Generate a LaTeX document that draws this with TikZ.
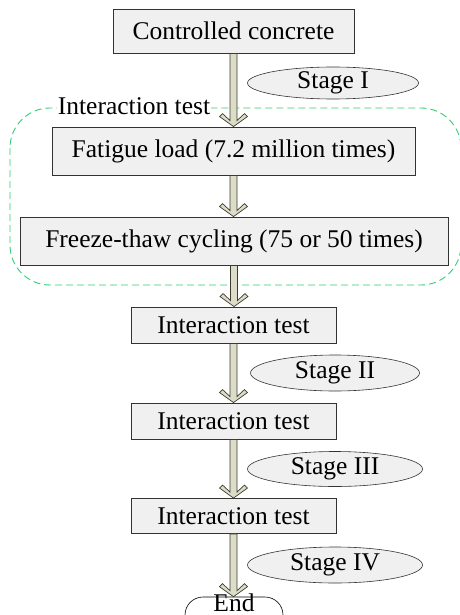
\documentclass[tikz,border=0pt]{standalone}
\usepackage{fontspec}
\setmainfont{Liberation Serif}
\usetikzlibrary{shapes.geometric,shapes.misc,calc}
\definecolor{boxfill}{HTML}{F0F0F0}
\definecolor{arrfill}{HTML}{DCDCC8}
\definecolor{arrline}{HTML}{3C3C30}
\definecolor{dashgreen}{HTML}{33CC77}
\tikzset{
  txt/.style={font=\fontsize{25.5}{30}\selectfont},
  box/.style={txt, draw=black!80, fill=boxfill, line width=0.9pt, inner sep=0pt},
  stageell/.style={txt, ellipse, draw=black!80, fill=boxfill, line width=0.6pt, inner sep=0pt},
  endbox/.style={rounded rectangle, draw=black, fill=white, line width=0.6pt, inner sep=0pt},
  grp/.style={draw=dashgreen, dash pattern=on 7pt off 4pt, line width=0.9pt, rounded corners=40pt},
  harrow/.style={draw=arrline, fill=arrfill, line width=0.7pt, line join=miter}
}
\newcommand{\hollowarr}[2]{%
  \path let \p1=#1, \p2=#2 in
    [harrow] (\x1-3.5pt,\y1) -- (\x1-3.5pt,\y2+6pt) -- (\x1-11pt,\y2+13pt) -- (\x1-14pt,\y2+10pt)
    -- (\x1,\y2) -- (\x1+14pt,\y2+10pt) -- (\x1+11pt,\y2+13pt) -- (\x1+3.5pt,\y2+6pt) -- (\x1+3.5pt,\y1) -- cycle;}
\begin{document}
\begin{tikzpicture}[x=1pt,y=-1pt]
\useasboundingbox (0,0) rectangle (459,615);
% group
\draw[grp] (10,108) rectangle (461,285);
\node[txt, fill=white, inner sep=1pt, anchor=center] (grplabel) at (134,106) {Interaction test};
% boxes
\node[box, minimum width=241pt, minimum height=44pt] (cc) at (233.5,31) {Controlled concrete};
\node[box, minimum width=363pt, minimum height=48pt] (fat) at (233.5,151) {Fatigue load (7.2 million times)};
\node[box, minimum width=428pt, minimum height=48pt] (fz) at (234,241) {Freeze-thaw cycling (75 or 50 times)};
\node[box, minimum width=205pt, minimum height=36pt] (it1) at (233.5,325) {Interaction test};
\node[box, minimum width=205pt, minimum height=36pt] (it2) at (233.5,421) {Interaction test};
\node[box, minimum width=205pt, minimum height=35pt] (it3) at (233.5,516) {Interaction test};
\node[endbox, minimum width=98pt, minimum height=36pt] (end) at (234,615) {};
\node[txt, inner sep=0pt] (endtxt) at (234,602.5) {End};
% stage ellipses
\node[stageell, minimum width=171pt, minimum height=32pt] (s1) at (333,83) {Stage I};
\node[stageell, minimum width=169pt, minimum height=36pt] (s2) at (335,373) {Stage II};
\node[stageell, minimum width=175pt, minimum height=35pt] (s3) at (335,469) {Stage III};
\node[stageell, minimum width=175pt, minimum height=36pt] (s4) at (335,565) {Stage IV};
% arrows
\hollowarr{(cc.south)}{(fat.north)}
\hollowarr{(fat.south)}{(fz.north)}
\hollowarr{(fz.south)}{(it1.north)}
\hollowarr{(it1.south)}{(it2.north)}
\hollowarr{(it2.south)}{(it3.north)}
\hollowarr{(it3.south)}{(end.north)}
\end{tikzpicture}
\end{document}
